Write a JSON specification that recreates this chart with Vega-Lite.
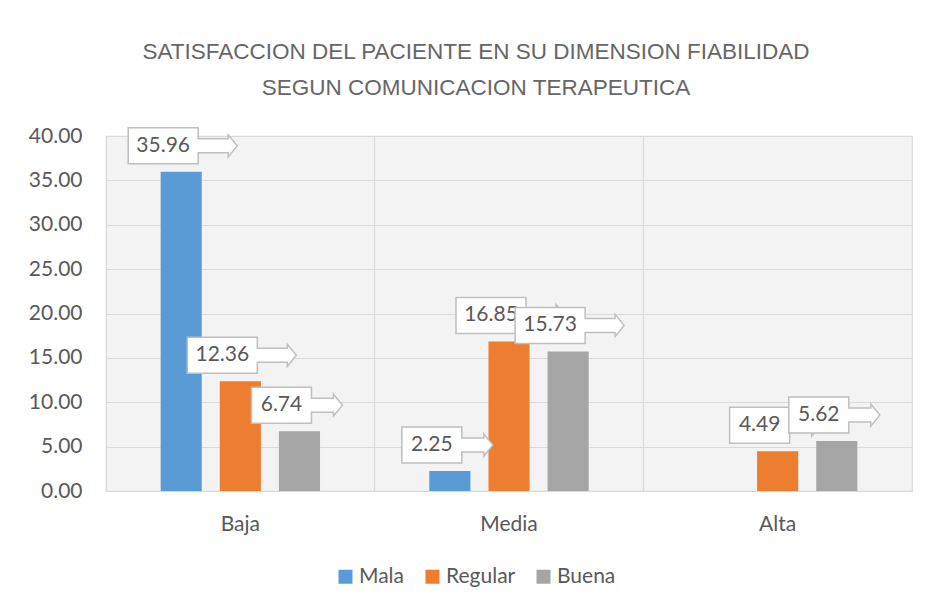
{
  "$schema": "https://vega.github.io/schema/vega-lite/v6.json",
  "autosize": {"type": "none"},
  "width": 806,
  "height": 355,
  "padding": {"left": 106, "top": 136, "right": 13, "bottom": 114},
  "background": "white",
  "title": {
    "text": ["SATISFACCION DEL PACIENTE EN SU DIMENSION FIABILIDAD", "SEGUN COMUNICACION TERAPEUTICA"],
    "anchor": "middle",
    "frame": "group",
    "dx": -33,
    "font": "Liberation Sans",
    "fontSize": 22.5,
    "fontWeight": "normal",
    "color": "#666666",
    "lineHeight": 36,
    "offset": 25
  },
  "data": {
    "values": [
      {"cat": "Baja", "grupo": "Mala", "value": 35.96},
      {"cat": "Baja", "grupo": "Regular", "value": 12.36},
      {"cat": "Baja", "grupo": "Buena", "value": 6.74},
      {"cat": "Media", "grupo": "Mala", "value": 2.25},
      {"cat": "Media", "grupo": "Regular", "value": 16.85},
      {"cat": "Media", "grupo": "Buena", "value": 15.73},
      {"cat": "Alta", "grupo": "Regular", "value": 4.49},
      {"cat": "Alta", "grupo": "Buena", "value": 5.62}
    ]
  },
  "encoding": {
    "x": {"field": "cat", "type": "nominal", "sort": ["Baja", "Media", "Alta"],
          "scale": {"paddingInner": 0, "paddingOuter": 0}},
    "xOffset": {"field": "grupo", "type": "nominal", "sort": ["Mala", "Regular", "Buena"],
                "scale": {"paddingInner": 0.305, "paddingOuter": 0.924}},
    "y": {"field": "value", "type": "quantitative",
          "scale": {"domain": [0, 40], "nice": false}}
  },
  "layer": [
    {
      "mark": {"type": "bar"},
      "encoding": {
        "x": {"field": "cat", "type": "nominal", "sort": ["Baja", "Media", "Alta"],
              "axis": {"title": null, "labelAngle": 0, "labelFont": "Lato", "labelFontSize": 21,
                       "labelColor": "#595959", "labelPadding": 22, "ticks": false,
                       "domain": true, "domainColor": "#D9D9D9", "grid": false}},
        "y": {"field": "value", "type": "quantitative",
              "axis": {"title": null, "values": [0, 5, 10, 15, 20, 25, 30, 35, 40], "format": ".2f",
                       "labelFont": "Lato", "labelFontSize": 21, "labelColor": "#595959",
                       "labelPadding": 24, "ticks": false, "domain": false,
                       "grid": true, "gridColor": "#D9D9D9", "gridWidth": 1.2}},
        "color": {"field": "grupo", "type": "nominal", "sort": ["Mala", "Regular", "Buena"],
                  "scale": {"domain": ["Mala", "Regular", "Buena"], "range": ["#5B9BD5", "#ED7D31", "#A5A5A5"]},
                  "legend": {"title": null, "orient": "none", "legendX": 229, "legendY": 430,
                             "direction": "horizontal",
                             "symbolType": "square", "symbolSize": 196, "symbolStrokeWidth": 0,
                             "labelFont": "Lato", "labelFontSize": 21, "labelColor": "#595959",
                             "columnPadding": 17, "labelOffset": 3}}
      }
    },
    {
      "transform": [{"filter": "datum.grupo == 'Mala'"}],
      "mark": {"type": "point", "filled": true, "fill": "white", "stroke": "#BFBFBF", "strokeWidth": 1.5, "opacity": 1, "size": 4},
      "encoding": {
        "x": {"field": "cat", "type": "nominal", "sort": ["Baja", "Media", "Alta"],
              "axis": {"orient": "top", "title": null, "labels": false, "ticks": false, "domain": false,
                       "grid": true, "gridColor": "#D9D9D9", "gridWidth": 1.2, "bandPosition": 0}},
        "y": {"field": "value", "type": "quantitative", "axis": null},
        "shape": {"condition": {"test": "datum.value >= 10", "value": "M-53,-44H17V-33H47V-37L56,-26L47,-15V-19H17V-8H-53Z"},
                  "value": "M-48,-44H12V-33H34V-37L43,-26L34,-15V-19H12V-8H-48Z"}
      }
    },
    {
      "transform": [{"filter": "datum.grupo == 'Mala'"}],
      "mark": {"type": "text", "dx": -18, "dy": -26, "align": "center", "baseline": "middle",
               "font": "Lato", "fontSize": 21, "color": "#595959"},
      "encoding": {
        "x": {"field": "cat", "type": "nominal", "sort": ["Baja", "Media", "Alta"], "axis": null},
        "y": {"field": "value", "type": "quantitative", "axis": null},
        "text": {"field": "value", "type": "quantitative", "format": ".2f"}
      }
    },
    {
      "transform": [{"filter": "datum.grupo == 'Regular'"}],
      "mark": {"type": "point", "filled": true, "fill": "white", "stroke": "#BFBFBF", "strokeWidth": 1.5, "opacity": 1, "size": 4},
      "encoding": {
        "x": {"field": "cat", "type": "nominal", "sort": ["Baja", "Media", "Alta"], "axis": null},
        "y": {"field": "value", "type": "quantitative", "axis": null},
        "shape": {"condition": {"test": "datum.value >= 10", "value": "M-53,-44H17V-33H47V-37L56,-26L47,-15V-19H17V-8H-53Z"},
                  "value": "M-48,-44H12V-33H34V-37L43,-26L34,-15V-19H12V-8H-48Z"}
      }
    },
    {
      "transform": [{"filter": "datum.grupo == 'Regular'"}],
      "mark": {"type": "text", "dx": -18, "dy": -26, "align": "center", "baseline": "middle",
               "font": "Lato", "fontSize": 21, "color": "#595959"},
      "encoding": {
        "x": {"field": "cat", "type": "nominal", "sort": ["Baja", "Media", "Alta"], "axis": null},
        "y": {"field": "value", "type": "quantitative", "axis": null},
        "text": {"field": "value", "type": "quantitative", "format": ".2f"}
      }
    },
    {
      "transform": [{"filter": "datum.grupo == 'Buena'"}],
      "mark": {"type": "point", "filled": true, "fill": "white", "stroke": "#BFBFBF", "strokeWidth": 1.5, "opacity": 1, "size": 4},
      "encoding": {
        "x": {"field": "cat", "type": "nominal", "sort": ["Baja", "Media", "Alta"], "axis": null},
        "y": {"field": "value", "type": "quantitative", "axis": null},
        "shape": {"condition": {"test": "datum.value >= 10", "value": "M-53,-44H17V-33H47V-37L56,-26L47,-15V-19H17V-8H-53Z"},
                  "value": "M-48,-44H12V-33H34V-37L43,-26L34,-15V-19H12V-8H-48Z"}
      }
    },
    {
      "transform": [{"filter": "datum.grupo == 'Buena'"}],
      "mark": {"type": "text", "dx": -18, "dy": -26, "align": "center", "baseline": "middle",
               "font": "Lato", "fontSize": 21, "color": "#595959"},
      "encoding": {
        "x": {"field": "cat", "type": "nominal", "sort": ["Baja", "Media", "Alta"], "axis": null},
        "y": {"field": "value", "type": "quantitative", "axis": null},
        "text": {"field": "value", "type": "quantitative", "format": ".2f"}
      }
    }
  ],
  "resolve": {"axis": {"x": "independent", "y": "independent"}},
  "config": {
    "view": {"stroke": "#D9D9D9", "strokeWidth": 1.2, "fill": "#F3F3F3"}
  }
}
